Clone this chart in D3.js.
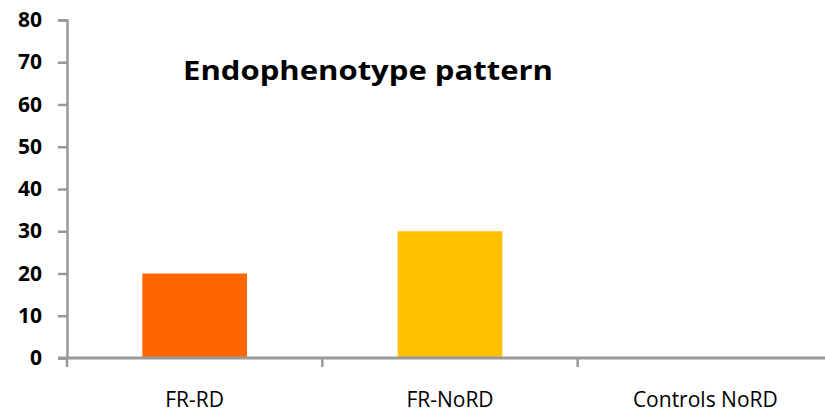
<!DOCTYPE html>
<html>
<head>
<meta charset="utf-8">
<script src="https://cdn.jsdelivr.net/npm/d3@7"></script>
<style>
  body { margin: 0; background: #fff; }
  text { font-family: "Open Sans", Lato, sans-serif; fill: #000; }
</style>
</head>
<body>
<div id="chart"></div>
<script>
const categories = ["FR-RD", "FR-NoRD", "Controls NoRD"];
const values = [20, 30, 0];
const colors = ["#FF6600", "#FFC000", "#9E9E9E"];
const yTicks = [0, 10, 20, 30, 40, 50, 60, 70, 80];
const title = "Endophenotype pattern";

const width = 825, height = 412;
const margin = { top: 20, right: -8, bottom: 54, left: 67 };

const svg = d3.select("#chart")
    .append("svg")
    .attr("width", width)
    .attr("height", height);

const xScale = d3.scaleBand()
    .domain(categories)
    .range([margin.left, width - margin.right])
    .padding(0);

const yScale = d3.scaleLinear()
    .domain([0, 80])
    .range([height - margin.bottom, margin.top]);

// Bars
const barW = xScale.bandwidth() * 0.41;
svg.append("g")
    .selectAll("rect")
    .data(categories)
    .enter()
    .append("rect")
    .attr("x", (d) => xScale(d) + (xScale.bandwidth() - barW) / 2)
    .attr("y", (d, i) => yScale(values[i]))
    .attr("width", barW)
    .attr("height", (d, i) => yScale(0) - yScale(values[i]))
    .attr("fill", (d, i) => colors[i]);

// Y axis
const yAxis = svg.append("g")
    .attr("transform", "translate(" + margin.left + ",0)")
    .call(d3.axisLeft(yScale).tickValues(yTicks).tickSize(9).tickPadding(16));
yAxis.select(".domain").attr("stroke", "#999").attr("stroke-width", 2.5);
yAxis.selectAll(".tick line").attr("stroke", "#999").attr("stroke-width", 2.5);
yAxis.selectAll(".tick text")
    .style("font-size", "21px")
    .style("font-weight", "bold")
    .attr("fill", "#000");

// X axis
const xAxis = svg.append("g")
    .attr("transform", "translate(0," + yScale(0) + ")");
xAxis.append("line")
    .attr("x1", margin.left - 9)
    .attr("x2", width)
    .attr("stroke", "#999")
    .attr("stroke-width", 3);
xAxis.selectAll(".sep")
    .data(categories)
    .enter()
    .append("line")
    .attr("class", "sep")
    .attr("x1", (d) => xScale(d))
    .attr("x2", (d) => xScale(d))
    .attr("y1", 0)
    .attr("y2", 9)
    .attr("stroke", "#999")
    .attr("stroke-width", 2.5);
xAxis.selectAll(".lbl")
    .data(categories)
    .enter()
    .append("text")
    .attr("class", "lbl")
    .attr("x", (d) => xScale(d) + xScale.bandwidth() / 2)
    .attr("y", 49)
    .attr("text-anchor", "middle")
    .style("font-size", "21px")
    .text((d) => d);

// Title
svg.append("text")
    .attr("x", 183)
    .attr("y", 80)
    .style("font-size", "27px")
    .style("font-weight", "bold")
    .attr("textLength", 370)
    .attr("lengthAdjust", "spacingAndGlyphs")
    .text(title);
</script>
</body>
</html>
